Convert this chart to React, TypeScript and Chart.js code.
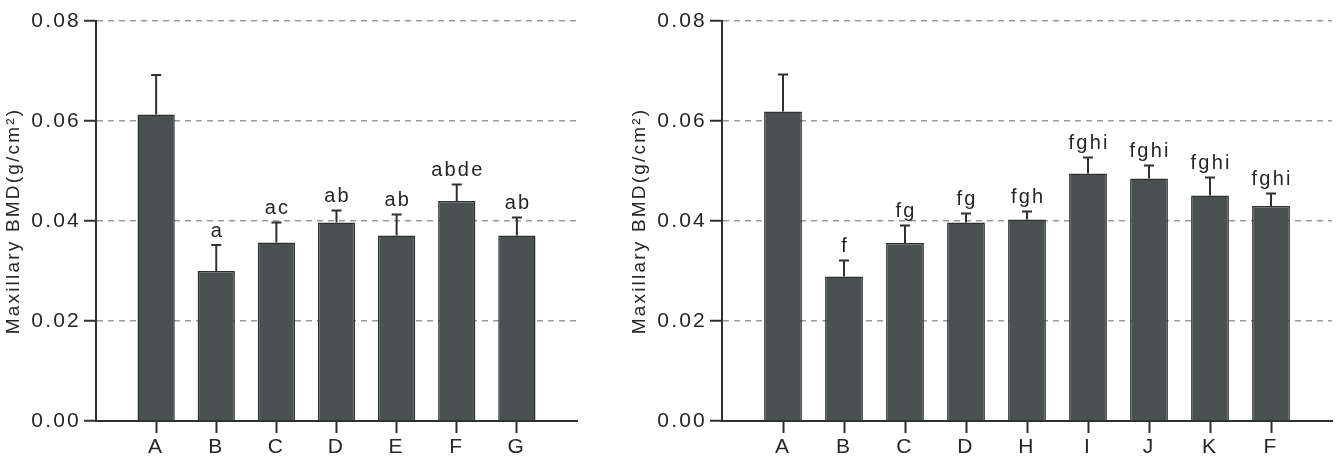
import React, { useEffect, useRef } from "react";
import { Chart, registerables } from "chart.js";

Chart.register(...registerables);

// ---- Data ----
const leftCategories = ["A", "B", "C", "D", "E", "F", "G"];
const leftMeans = [0.0613, 0.03, 0.0357, 0.0397, 0.0371, 0.044, 0.0371];
const leftErrors = [0.0079, 0.0052, 0.004, 0.0024, 0.0042, 0.0033, 0.0036];
const leftLetters = ["", "a", "ac", "ab", "ab", "abde", "ab"];

const rightCategories = ["A", "B", "C", "D", "H", "I", "J", "K", "F"];
const rightMeans = [0.0619, 0.0289, 0.0356, 0.0397, 0.0403, 0.0495, 0.0485, 0.0451, 0.043];
const rightErrors = [0.0074, 0.0032, 0.0035, 0.0018, 0.0016, 0.0032, 0.0026, 0.0036, 0.0025];
const rightLetters = ["", "f", "fg", "fg", "fgh", "fghi", "fghi", "fghi", "fghi"];

const yTicks = [0, 0.02, 0.04, 0.06, 0.08];
const yAxisTitle = "Maxillary BMD(g/cm\u00B2)";

const FONT = "'Liberation Sans', Arial, Helvetica, sans-serif";
const TEXT = "#262626";
const AXIS = "#303030";
const SPACING = "2.2px";

type PanelProps = {
  left: number;
  width: number;
  padRight: number;
  categories: string[];
  means: number[];
  errors: number[];
  letters: string[];
};

function BarPanel({ left, width, padRight, categories, means, errors, letters }: PanelProps) {
  const ref = useRef<HTMLCanvasElement>(null);

  useEffect(() => {
    if (!ref.current) return;
    const spacingPlugin = {
      id: "spacing",
      beforeUpdate(chart: any) {
        chart.ctx.letterSpacing = SPACING;
      },
      beforeDraw(chart: any) {
        chart.ctx.letterSpacing = SPACING;
      },
    };
    const errPlugin = {
      id: "errBars",
      afterDatasetsDraw(chart: any) {
        const ctx = chart.ctx;
        const yScale = chart.scales.y;
        const meta = chart.getDatasetMeta(0);
        ctx.save();
        ctx.letterSpacing = SPACING;
        ctx.strokeStyle = AXIS;
        ctx.lineWidth = 2;
        ctx.fillStyle = TEXT;
        ctx.font = `20px ${FONT}`;
        ctx.textAlign = "center";
        ctx.textBaseline = "alphabetic";
        means.forEach((m, i) => {
          const bar = meta.data[i + 1];
          if (!bar) return;
          const x = bar.x;
          const y0 = yScale.getPixelForValue(m);
          const y1 = yScale.getPixelForValue(m + errors[i]);
          ctx.beginPath();
          ctx.moveTo(x, y0);
          ctx.lineTo(x, y1);
          ctx.moveTo(x - 5, y1);
          ctx.lineTo(x + 5, y1);
          ctx.stroke();
          if (letters[i]) {
            ctx.fillText(letters[i], x + 1.1, y1 - 8.5);
          }
        });
        ctx.restore();
      },
    };

    const labels = ["", ...categories, ""];
    const data = [null, ...means, null];
    const lastIdx = labels.length - 1;

    const chart = new Chart(ref.current, {
      type: "bar",
      data: {
        labels,
        datasets: [
          {
            data,
            backgroundColor: "#4b5151",
            borderColor: "#2c3030",
            borderWidth: 1.5,
            barPercentage: 0.62,
            categoryPercentage: 1,
          },
        ],
      },
      options: {
        responsive: false,
        animation: false,
        layout: { padding: { top: 21, right: padRight, left: 0, bottom: 0 } },
        plugins: {
          legend: { display: false },
          tooltip: { enabled: false },
        },
        scales: {
          x: {
            type: "category",
            offset: false,
            afterFit: (s: any) => {
              s.height = 42;
            },
            grid: {
              display: true,
              offset: false,
              drawOnChartArea: false,
              drawTicks: true,
              tickLength: 12,
              tickColor: AXIS,
              tickWidth: (c: any) =>
                c && (c.index === 0 || c.index === lastIdx) ? 0 : 2,
            },
            border: { display: true, color: AXIS, width: 2 },
            ticks: {
              color: TEXT,
              font: { family: FONT, size: 21 },
              padding: 2,
              maxRotation: 0,
              autoSkip: false,
            },
          },
          y: {
            min: 0,
            max: 0.08,
            afterFit: (s: any) => {
              s.width = 96;
            },
            afterBuildTicks: (s: any) => {
              s.ticks = yTicks.map((v) => ({ value: v }));
            },
            ticks: {
              callback: (v: any) => Number(v).toFixed(2),
              color: TEXT,
              font: { family: FONT, size: 21 },
              padding: 3,
            },
            grid: {
              color: (c: any) =>
                c.tick && c.tick.value === 0 ? "rgba(0,0,0,0)" : "#9a9a9a",
              lineWidth: 1.5,
              tickLength: 12,
              tickWidth: 2,
              tickColor: AXIS,
            },
            border: { display: true, color: AXIS, width: 2, dash: [6, 5] },
            title: {
              display: true,
              text: yAxisTitle,
              color: TEXT,
              font: { family: FONT, size: 19 },
              padding: { top: 2, bottom: 0 },
            },
          },
        },
      } as any,
      plugins: [spacingPlugin, errPlugin],
    });
    return () => chart.destroy();
  }, []);

  return (
    <canvas
      ref={ref}
      width={width}
      height={463}
      style={{ position: "absolute", left, top: 0, width, height: 463, display: "block" }}
    />
  );
}

export default function App() {
  return (
    <div
      style={{
        position: "absolute",
        left: 0,
        top: 0,
        width: 1344,
        height: 463,
        background: "#ffffff",
        overflow: "hidden",
      }}
    >
      <BarPanel
        left={0}
        width={620}
        padRight={43}
        categories={leftCategories}
        means={leftMeans}
        errors={leftErrors}
        letters={leftLetters}
      />
      <BarPanel
        left={626}
        width={718}
        padRight={12}
        categories={rightCategories}
        means={rightMeans}
        errors={rightErrors}
        letters={rightLetters}
      />
    </div>
  );
}
